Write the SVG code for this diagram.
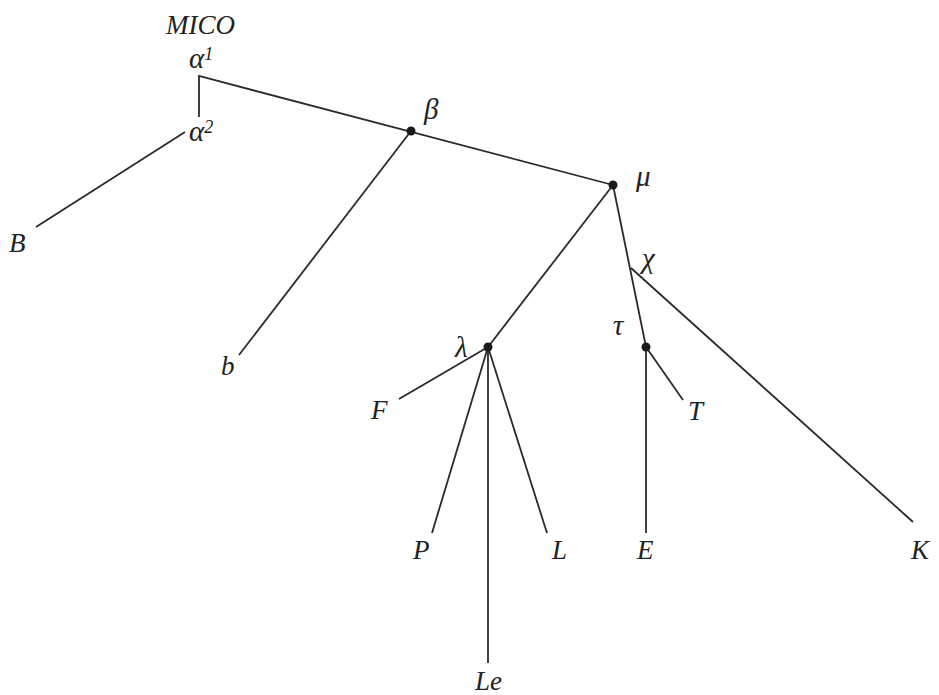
<svg xmlns="http://www.w3.org/2000/svg" width="939" height="695" viewBox="0 0 939 695">
<style>
.t{font-family:"Liberation Serif","DejaVu Serif",serif;font-style:italic;font-size:27px;fill:#222}
.g{font-size:29px}
.s{font-size:18px}
.e{stroke:#2a2a2a;stroke-width:1.8;fill:none}
.d{fill:#1a1a1a}
</style>
<rect width="939" height="695" fill="#fff"/>
<g id="connectors">
<path class="e" d="M199,117 V76 L613,185"/>
<path class="e" d="M185,132 L36,227"/>
<path class="e" d="M411,131 L239,355"/>
<path class="e" d="M613,185 L488,347"/>
<path class="e" d="M613,185 L646,347"/>
<path class="e" d="M631,268 L913,522"/>
<path class="e" d="M488,347 L399,399"/>
<path class="e" d="M488,347 L432,533"/>
<path class="e" d="M488,347 V663"/>
<path class="e" d="M488,347 L547,533"/>
<path class="e" d="M646,347 L683,400"/>
<path class="e" d="M646,347 V533"/>
</g>
<g id="MICO"><text class="t" x="166" y="34">MICO</text></g>
<g id="alpha1"><text class="t g" x="189" y="68">α<tspan class="s" dy="-8">1</tspan></text></g>
<g id="alpha2"><text class="t g" x="189" y="141">α<tspan class="s" dy="-8">2</tspan></text></g>
<g id="B"><text class="t" x="9" y="252">B</text></g>
<g id="beta"><circle class="d" cx="411" cy="131" r="4.5"/><text class="t g" x="424" y="119">β</text></g>
<g id="b"><text class="t" x="221" y="375">b</text></g>
<g id="mu"><circle class="d" cx="613" cy="185" r="4.5"/><text class="t g" x="636" y="186">μ</text></g>
<g id="chi"><text class="t g" x="642" y="268">χ</text></g>
<g id="lambda"><circle class="d" cx="488" cy="347" r="4.5"/><text class="t g" x="455" y="357">λ</text></g>
<g id="tau"><circle class="d" cx="646" cy="347" r="4.5"/><text class="t g" x="613" y="335">τ</text></g>
<g id="F"><text class="t" x="371" y="419">F</text></g>
<g id="T"><text class="t" x="688" y="420">T</text></g>
<g id="P"><text class="t" x="413" y="559">P</text></g>
<g id="L"><text class="t" x="552" y="559">L</text></g>
<g id="E"><text class="t" x="637" y="559">E</text></g>
<g id="K"><text class="t" x="911" y="559">K</text></g>
<g id="Le"><text class="t" x="475" y="690">Le</text></g>
</svg>
